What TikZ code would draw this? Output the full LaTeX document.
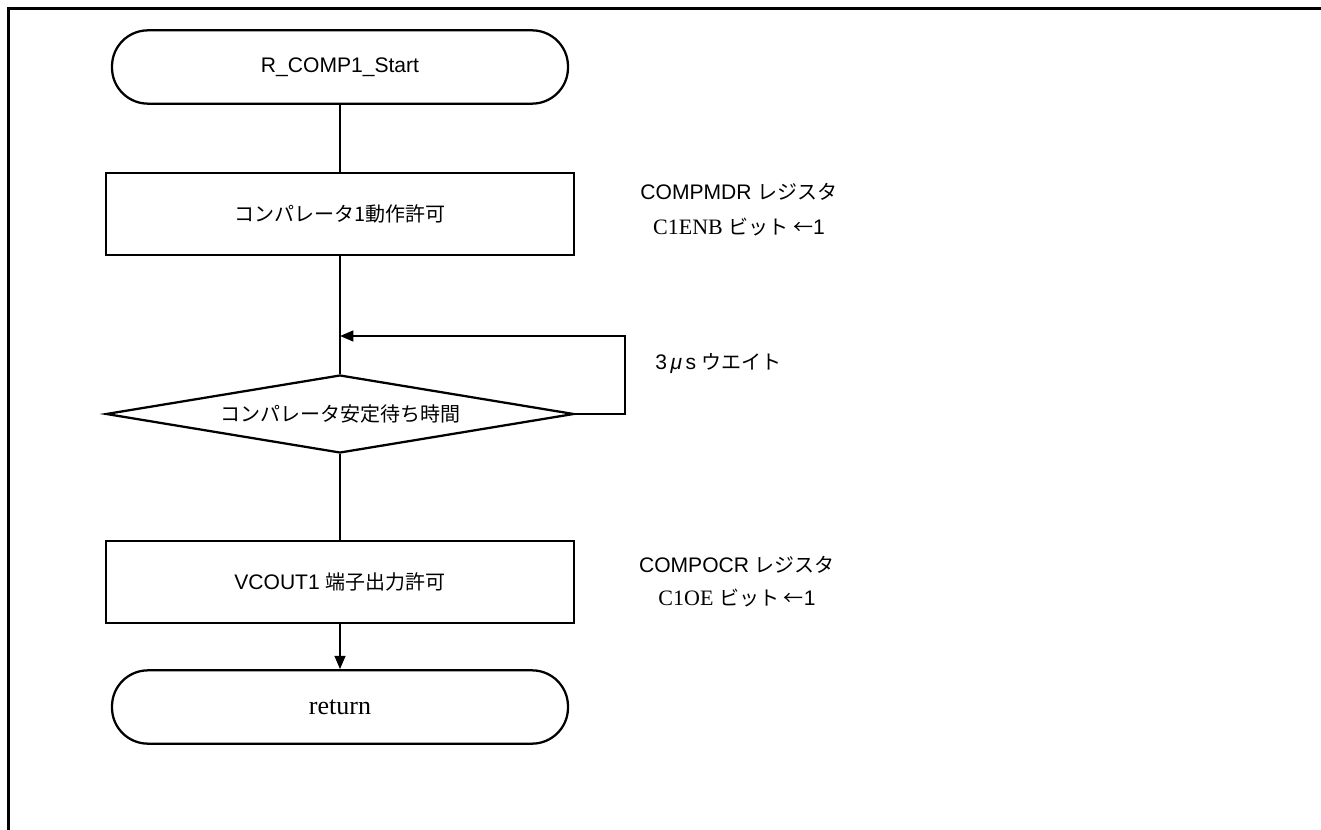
\documentclass[tikz,border=0pt]{standalone}
\usepackage{fontspec}
\usetikzlibrary{shapes.geometric,arrows.meta}
\setmainfont{Liberation Serif}
\setsansfont{Liberation Sans}
\newfontfamily\jp{Noto Sans CJK JP}
\newcommand{\ja}[1]{{\jp\fontsize{15}{18}\selectfont #1}}
\newcommand{\sr}[1]{{\rmfamily\fontsize{16.5}{18}\selectfont #1}}
\begin{document}
\begin{tikzpicture}[x=0.75pt,y=-0.75pt,
  every node/.style={font=\fontsize{15.8}{18}\selectfont\sffamily, inner sep=0pt},
  flow/.style={line width=1.7pt},
  arr/.style={flow,-{Triangle[length=10pt,width=8pt]}},
  term/.style={draw, line width=1.7pt, rectangle, rounded corners=27pt,
    minimum width=342pt, minimum height=55pt},
  proc/.style={draw, line width=1.7pt, rectangle,
    minimum width=351pt, minimum height=61.5pt},
  decide/.style={draw, line width=1.7pt, diamond, aspect=6,
    minimum width=351pt, minimum height=58.5pt},
  note/.style={align=center}]
  \useasboundingbox (0,0) rectangle (1321,830);
  % page frame
  \draw[line width=2.25pt] (8,830) -- (8,9) -- (1321,9);

  % main column
  \node[term] (start) at (340,67) {R\_COMP1\_Start};
  \node[proc] (enable) at (340,214) {\ja{コンパレータ1動作許可}};
  \node[decide] (wait) at (340,414) {\ja{コンパレータ安定待ち時間}};
  \node[proc] (vcout) at (340,582) {VCOUT1 \ja{端子出力許可}};
  \node[term, font=\fontsize{19.5}{22}\selectfont\rmfamily] (ret) at (340,707) {return};

  \coordinate (loopin) at (340,336);
  \coordinate (loopr) at (625,336);

  \draw[flow] (start) -- (enable);
  \draw[flow] (enable) -- (wait);
  \draw[flow] (wait) -- (vcout);
  \draw[arr] (vcout) -- (ret);
  \draw[arr] (wait.east) -| (loopr) -- (loopin);

  % register notes
  \node[note] (n1a) at (739,192) {COMPMDR \ja{レジスタ}};
  \node[note] (n1b) at (739,227) {\sr{C1ENB} \ja{ビット ←}1};
  \node[anchor=west] (n2) at (655,364) {3\,\textit{μ}\,s \ja{ウエイト}};
  \node[note] (n3a) at (737,565) {COMPOCR \ja{レジスタ}};
  \node[note] (n3b) at (737,598) {\sr{C1OE} \ja{ビット ←}1};
\end{tikzpicture}
\end{document}
